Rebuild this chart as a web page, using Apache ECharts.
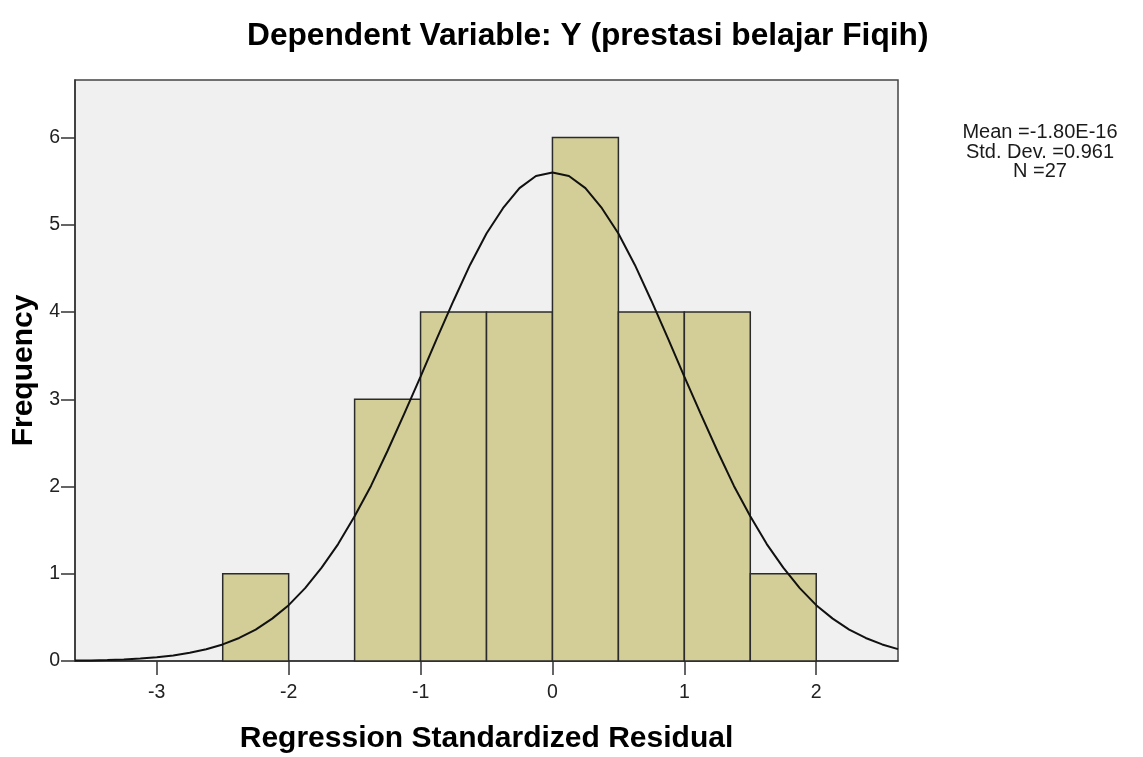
<!DOCTYPE html>
<html>
<head>
<meta charset="utf-8">
<script src="https://cdn.jsdelivr.net/npm/echarts@6/dist/echarts.min.js"></script>
<style>
  html, body { margin: 0; padding: 0; background: #ffffff; }
  #chart { width: 1143px; height: 757px; }
</style>
</head>
<body>
<div id="chart"></div>
<script>
// histogram bins: [from, to] and frequency
const binStart = [-2.5, -1.5, -1.0, -0.5, 0.0, 0.5, 1.0, 1.5]
const binEnd = [-2.0, -1.0, -0.5, 0.0, 0.5, 1.0, 1.5, 2.0]
const frequency = [1, 3, 4, 4, 6, 4, 4, 1]

// normal curve
const curveX = [-3.62, -3.5, -3.375, -3.25, -3.125, -3.0, -2.875, -2.75, -2.625, -2.5, -2.375, -2.25, -2.125,
  -2.0, -1.875, -1.75, -1.625, -1.5, -1.375, -1.25, -1.125, -1.0, -0.875, -0.75, -0.625, -0.5, -0.375,
  -0.25, -0.125, 0.0, 0.125, 0.25, 0.375, 0.5, 0.625, 0.75, 0.875, 1.0, 1.125, 1.25, 1.375, 1.5, 1.625,
  1.75, 1.875, 2.0, 2.125, 2.25, 2.375, 2.5, 2.62]
const curveY = [0.005, 0.007, 0.012, 0.018, 0.028, 0.043, 0.064, 0.094, 0.134, 0.19, 0.264, 0.36, 0.486,
  0.64, 0.836, 1.07, 1.34, 1.66, 2.01, 2.41, 2.83, 3.26, 3.7, 4.13, 4.54, 4.9, 5.19,
  5.42, 5.56, 5.6, 5.56, 5.42, 5.19, 4.9, 4.54, 4.13, 3.7, 3.26, 2.83, 2.41, 2.01, 1.66, 1.34,
  1.07, 0.836, 0.64, 0.486, 0.36, 0.264, 0.19, 0.136]

const xTicks = [-3, -2, -1, 0, 1, 2]
const yTicks = [0, 1, 2, 3, 4, 5, 6]

const statsLines = ["Mean =-1.80E-16", "Std. Dev. =0.961", "N =27"]

const chart = echarts.init(document.getElementById("chart"), null, { renderer: "canvas" })

const axisColor = "#333333"
const font = "Liberation Sans, Arial, sans-serif"

chart.setOption({
  animation: false,
  backgroundColor: "#ffffff",
  title: {
    text: "Dependent Variable: Y (prestasi belajar Fiqih)",
    left: 247,
    top: 20,
    padding: 0,
    textStyle: {
      fontFamily: font,
      fontSize: 31.7,
      fontWeight: "bold",
      color: "#000000",
    },
  },
  grid: {
    left: 75,
    right: 245,
    top: 80,
    bottom: 96,
    outerBoundsMode: "none",
    show: true,
    backgroundColor: "#f0f0f0",
    borderColor: "#444444",
    borderWidth: 1.5,
  },
  xAxis: {
    type: "value",
    min: -3.62,
    max: 2.62,
    name: "Regression Standardized Residual",
    nameLocation: "middle",
    nameGap: 63,
    nameTextStyle: {
      fontFamily: font,
      fontSize: 30,
      fontWeight: "bold",
      color: "#000000",
    },
    axisLine: { show: true, onZero: false, lineStyle: { color: axisColor, width: 1.5 } },
    axisTick: { show: true, length: 14, customValues: xTicks, lineStyle: { color: axisColor, width: 1.5 } },
    axisLabel: {
      customValues: xTicks,
      margin: 22,
      fontFamily: font,
      fontSize: 19.5,
      color: "#222222",
    },
    splitLine: { show: false },
  },
  yAxis: {
    type: "value",
    min: 0,
    max: 6.66,
    name: "Frequency",
    nameLocation: "middle",
    nameGap: 34,
    nameTextStyle: {
      fontFamily: font,
      fontSize: 30,
      fontWeight: "bold",
      color: "#000000",
    },
    axisLine: { show: true, onZero: false, lineStyle: { color: axisColor, width: 1.5 } },
    axisTick: { show: true, length: 14, customValues: yTicks, lineStyle: { color: axisColor, width: 1.5 } },
    axisLabel: {
      customValues: yTicks,
      margin: 15,
      fontFamily: font,
      fontSize: 19.5,
      color: "#222222",
    },
    splitLine: { show: false },
  },
  graphic: [
    {
      type: "text",
      x: 1040,
      y: 123,
      style: {
        text: statsLines.join("\n"),
        fontFamily: font,
        fontSize: 20,
        lineHeight: 19.5,
        align: "center",
        verticalAlign: "top",
        fill: "#1a1a1a",
      },
    },
  ],
  series: [
    {
      type: "custom",
      name: "Histogram",
      encode: { x: [0, 1], y: 2 },
      data: binStart.map((s, i) => [s, binEnd[i], frequency[i]]),
      renderItem(params, api) {
        const top = api.coord([api.value(0), api.value(2)])
        const bottom = api.coord([api.value(1), 0])
        return {
          type: "rect",
          shape: {
            x: top[0],
            y: top[1],
            width: bottom[0] - top[0],
            height: bottom[1] - top[1],
          },
          style: {
            fill: "#d3ce97",
            stroke: "#2b2b2b",
            lineWidth: 1.5,
          },
        }
      },
      z: 2,
    },
    {
      type: "line",
      name: "Normal",
      smooth: false,
      symbol: "none",
      lineStyle: { color: "#111111", width: 2 },
      data: curveX.map((x, i) => [x, curveY[i]]),
      z: 3,
    },
  ],
})
</script>
</body>
</html>
